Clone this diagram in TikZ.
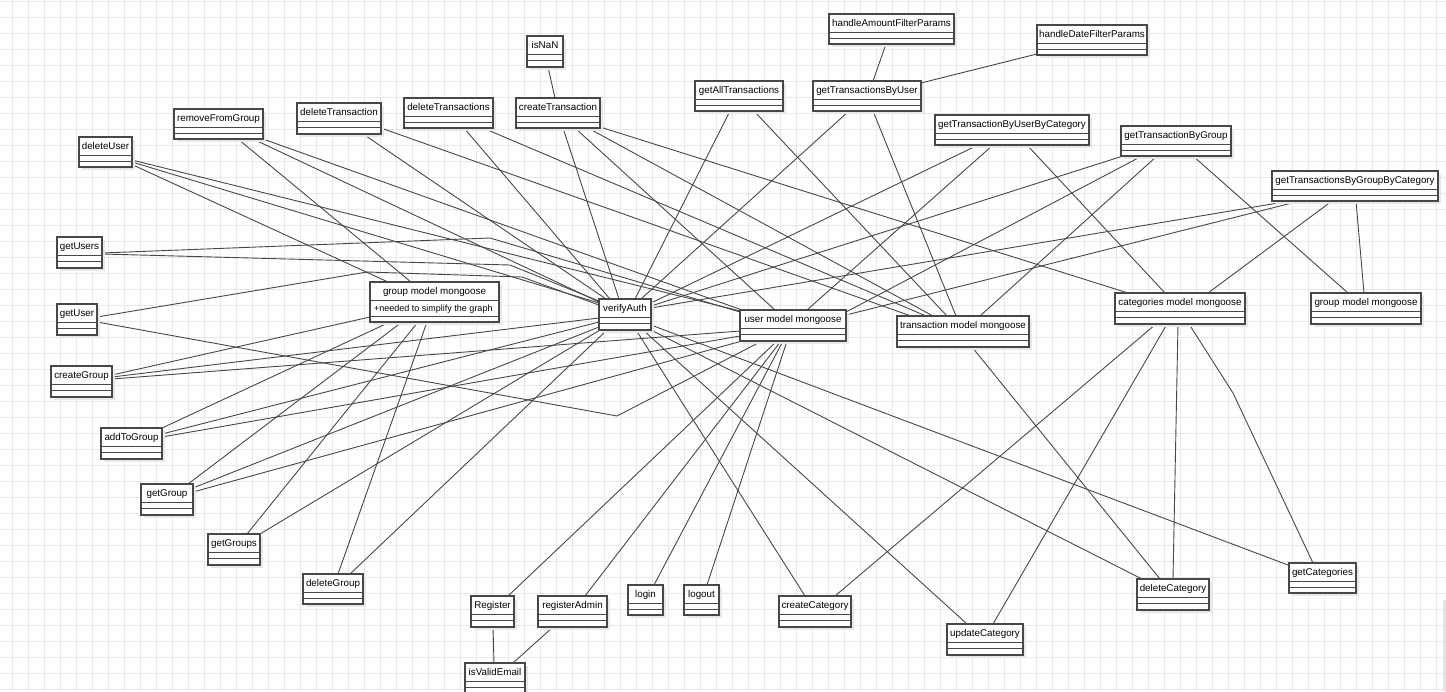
\documentclass[tikz,border=0pt]{standalone}
\usepackage{fontspec}
\setmainfont{Liberation Sans}
\pgfdeclarelayer{background}
\pgfsetlayers{background,main}
\newcommand\cls[6]{%
  \expandafter\xdef\csname cxX#1\endcsname{#2}%
  \expandafter\xdef\csname cyX#1\endcsname{#3}%
  \fill[shadowc] (#2+3,#3+3) rectangle (#4+3,#5+3);
  \node[clsframe, minimum width={(#4-#2)*1pt}, minimum height={(#5-#3)*1pt}] (#1) at (#2,#3) {};
  \draw[sepline] (#2,#3+18) -- (#4,#3+18);
  \draw[sepline] (#2,{#3+24.5}) -- (#4,{#3+24.5});
  \node[lbl] (#1-t) at ({(#2+#4)/2},{#3+12.7}) {#6};
}
\newcommand\pp[3]{([shift={({#2-\csname cxX#1\endcsname},{#3-\csname cyX#1\endcsname})}]#1.north west)}
\begin{document}
\begin{tikzpicture}[x=1pt,y=-1pt,
  conn/.style={draw=black!72, line width=0.9pt},
  clsframe/.style={draw=black!72, line width=1.3pt, fill=white, inner sep=0pt, outer sep=0pt, anchor=north west},
  sepline/.style={draw=black!72, line width=1pt},
  shadowc/.style={fill=black!9},
  gridc/.style={draw=black!9, line width=0.7pt},
  lbl/.style={font=\fontsize{9.8}{11}\selectfont, anchor=base, inner sep=0pt, text=black},
  attr/.style={font=\fontsize{9}{10}\selectfont, anchor=base west, inner sep=0pt, text=black}
]
\useasboundingbox (0,0) rectangle (1446,691);
\begin{pgfonlayer}{background}
\fill[white] (0,0) rectangle (1446,691);
\foreach \i in {0,...,90} \draw[gridc] ({12.7+16*\i},0) -- ({12.7+16*\i},691);
\foreach \j in {0,...,43} \draw[gridc] (0,{1.7+16*\j}) -- (1446,{1.7+16*\j});
\fill[black!10] (1443,600) rectangle (1446,691);
\end{pgfonlayer}

\cls{isNaN}{527}{36}{563}{67}{isNaN}
\cls{cT}{516}{98}{600}{128}{createTransaction}
\cls{gAT}{695}{81}{783}{111}{getAllTransactions}
\cls{gTU}{813}{81}{921}{111}{getTransactionsByUser}
\cls{hA}{829}{14}{954}{44}{handleAmountFilterParams}
\cls{hD}{1037}{25}{1147}{55}{handleDateFilterParams}
\cls{gTUC}{935}{115}{1089}{145}{getTransactionByUserByCategory}
\cls{gTG}{1121}{126}{1231}{156}{getTransactionByGroup}
\cls{gTGC}{1272}{171}{1438}{201}{getTransactionsByGroupByCategory}
\cls{dU}{79}{137}{132}{167}{deleteUser}
\cls{rFG}{174}{109}{263}{139}{removeFromGroup}
\cls{dT}{297}{103}{381}{134}{deleteTransaction}
\cls{dTs}{404}{98}{493}{128}{deleteTransactions}
\cls{gUs}{57}{237}{102}{268}{getUsers}
\cls{gU}{57}{304}{97}{335}{getUser}
\cls{cG}{51}{366}{112}{397}{createGroup}
\cls{aG}{101}{428}{162}{459}{addToGroup}
% group model (left) with attribute
\expandafter\xdef\csname cxXgmL\endcsname{370}%
\expandafter\xdef\csname cyXgmL\endcsname{282}%
\fill[shadowc] (373,285) rectangle (502,325);
\node[clsframe, minimum width=129pt, minimum height=40pt] (gmL) at (370,282) {};
\draw[sepline] (370,300) -- (499,300);
\draw[sepline] (370,316) -- (499,316);
\node[lbl] (gmL-t) at (434.5,294.7) {group model mongoose};
\node[attr] (gmL-a) at (374,311) {+needed to simplify the graph};
\cls{vA}{599}{299}{651}{330}{verifyAuth}
\cls{uM}{740}{310}{846}{341}{user model mongoose}
\cls{tM}{897}{316}{1029}{347}{transaction model mongoose}
\cls{caM}{1115}{293}{1245}{324}{categories model mongoose}
\cls{gmR}{1311}{293}{1421}{324}{group model mongoose}
\cls{gG}{141}{484}{193}{515}{getGroup}
\cls{gGs}{208}{534}{260}{565}{getGroups}
\cls{dG}{303}{574}{363}{604}{deleteGroup}
\cls{reg}{471}{596}{514}{627}{Register}
\cls{rA}{538}{596}{607}{627}{registerAdmin}
\cls{li}{628}{585}{663}{615}{login}
\cls{lo}{684}{585}{719}{615}{logout}
\cls{cC}{779}{596}{851}{627}{createCategory}
\cls{iVE}{465}{663}{525}{694}{isValidEmail}
\cls{uC}{947}{624}{1023}{655}{updateCategory}
\cls{dC}{1137}{579}{1209}{610}{deleteCategory}
\cls{gC}{1289}{563}{1356}{593}{getCategories}

\begin{pgfonlayer}{background}
\draw[conn] \pp{isNaN}{548}{67} -- \pp{cT}{555}{98};
\draw[conn] \pp{hA}{886}{44} -- \pp{gTU}{873}{81};
\draw[conn] \pp{hD}{1037}{54} -- \pp{gTU}{921}{83};
\draw[conn] \pp{cT}{563}{128} -- \pp{vA}{619}{299};
\draw[conn] \pp{cT}{575}{128} -- \pp{uM}{775}{310};
\draw[conn] \pp{cT}{588}{128} -- \pp{tM}{933}{316};
\draw[conn] \pp{cT}{600}{127} -- \pp{caM}{1128}{293};
\draw[conn] \pp{dTs}{464}{128} -- \pp{vA}{610}{299};
\draw[conn] \pp{dTs}{483}{128} -- \pp{tM}{926}{316};
\draw[conn] \pp{dT}{381}{128} -- \pp{tM}{911}{316};
\draw[conn] \pp{dT}{363}{134} -- \pp{vA}{606}{299};
\draw[conn] \pp{gAT}{730}{111} -- \pp{vA}{635}{299};
\draw[conn] \pp{gAT}{754}{111} -- \pp{tM}{947}{316};
\draw[conn] \pp{gTU}{849}{111} -- \pp{vA}{641}{299};
\draw[conn] \pp{gTU}{873}{111} -- \pp{tM}{956}{316};
\draw[conn] \pp{gTUC}{978}{145} -- \pp{vA}{651}{303};
\draw[conn] \pp{gTUC}{993}{145} -- \pp{uM}{807}{310};
\draw[conn] \pp{gTUC}{1027}{145} -- \pp{caM}{1165}{293};
\draw[conn] \pp{gTG}{1123}{156} -- \pp{vA}{651}{306};
\draw[conn] \pp{gTG}{1142}{156} -- \pp{uM}{846}{312};
\draw[conn] \pp{gTG}{1157}{156} -- \pp{tM}{980}{316};
\draw[conn] \pp{gTG}{1193}{156} -- \pp{gmR}{1348}{293};
\draw[conn] \pp{gTGC}{1290}{201} -- \pp{vA}{651}{308};
\draw[conn] \pp{gTGC}{1300}{201} -- \pp{uM}{846}{315};
\draw[conn] \pp{gTGC}{1332}{201} -- \pp{caM}{1208}{293};
\draw[conn] \pp{gTGC}{1356}{201} -- \pp{gmR}{1364}{293};
\draw[conn] \pp{dU}{133}{165} -- \pp{gmL}{388}{282};
\draw[conn] \pp{dU}{132}{162} -- \pp{vA}{599}{303};
\draw[conn] \pp{dU}{132}{160} -- \pp{uM}{740}{311};
\draw[conn] \pp{rFG}{238}{139} -- \pp{gmL}{411}{282};
\draw[conn] \pp{rFG}{253}{139} -- \pp{vA}{599}{302};
\draw[conn] \pp{rFG}{263}{139} -- \pp{uM}{742}{310};
\draw[conn] \pp{gUs}{102}{253} -- (490,238) -- \pp{uM}{740}{312};
\draw[conn] \pp{gUs}{102}{254} -- (510,265) -- \pp{vA}{599}{301};
\draw[conn] \pp{gU}{97}{317} -- (367,272) -- (522,277) -- \pp{vA}{599}{305};
\draw[conn] \pp{gU}{97}{322} -- (617,416) -- \pp{uM}{762}{341};
\draw[conn] \pp{cG}{112}{375} -- \pp{gmL}{370}{317};
\draw[conn] \pp{cG}{112}{377} -- \pp{vA}{599}{318};
\draw[conn] \pp{cG}{112}{379} -- \pp{uM}{740}{331};
\draw[conn] \pp{aG}{162}{428} -- \pp{gmL}{390}{322};
\draw[conn] \pp{aG}{162}{434} -- \pp{vA}{599}{322};
\draw[conn] \pp{aG}{162}{437} -- \pp{uM}{740}{336};
\draw[conn] \pp{gG}{188}{484} -- \pp{gmL}{402}{322};
\draw[conn] \pp{gG}{193}{488} -- \pp{vA}{599}{327};
\draw[conn] \pp{gG}{193}{492} -- \pp{uM}{742}{341};
\draw[conn] \pp{gGs}{247}{534} -- \pp{gmL}{418}{322};
\draw[conn] \pp{gGs}{260}{534} -- \pp{vA}{600}{330};
\draw[conn] \pp{dG}{338}{574} -- \pp{gmL}{427}{322};
\draw[conn] \pp{dG}{350}{574} -- \pp{vA}{607}{330};
\draw[conn] \pp{reg}{508}{596} -- \pp{uM}{777}{341};
\draw[conn] \pp{rA}{585}{596} -- \pp{uM}{781}{341};
\draw[conn] \pp{li}{654}{585} -- \pp{uM}{783}{341};
\draw[conn] \pp{lo}{707}{585} -- \pp{uM}{787}{341};
\draw[conn] \pp{reg}{493}{627} -- \pp{iVE}{494}{663};
\draw[conn] \pp{rA}{553}{627} -- \pp{iVE}{513}{663};
\draw[conn] \pp{vA}{636}{330} -- \pp{cC}{805}{596};
\draw[conn] \pp{caM}{1156}{324} -- \pp{cC}{835}{596};
\draw[conn] \pp{vA}{643}{330} -- \pp{uC}{967}{624};
\draw[conn] \pp{caM}{1167}{324} -- \pp{uC}{993}{624};
\draw[conn] \pp{vA}{651}{330} -- \pp{dC}{1142}{579};
\draw[conn] \pp{tM}{972}{347} -- \pp{dC}{1160}{579};
\draw[conn] \pp{caM}{1178}{324} -- \pp{dC}{1173}{579};
\draw[conn] \pp{vA}{651}{325} -- \pp{gC}{1288}{565};
\draw[conn] \pp{caM}{1189}{324} -- (1233,393) -- \pp{gC}{1313}{563};
\end{pgfonlayer}
\end{tikzpicture}
\end{document}
